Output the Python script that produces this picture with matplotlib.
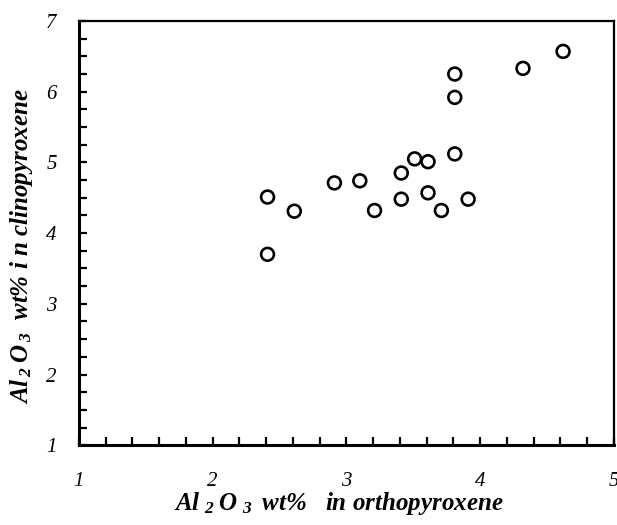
import matplotlib.pyplot as plt
from matplotlib.ticker import MultipleLocator

# Al2O3 in orthopyroxene (x) vs clinopyroxene (y)
opx_al2o3 = [2.41, 2.41, 2.61, 2.91, 3.10, 3.21, 3.41, 3.41, 3.51,
             3.61, 3.61, 3.71, 3.91, 3.81, 3.81, 3.81, 4.32, 4.62]
cpx_al2o3 = [4.51, 3.70, 4.31, 4.71, 4.74, 4.32, 4.48, 4.85, 5.05,
             5.01, 4.57, 4.32, 4.48, 5.12, 5.92, 6.25, 6.33, 6.57]

x_ticks = [1, 2, 3, 4, 5]
y_ticks = [1, 2, 3, 4, 5, 6, 7]

plt.rcParams['font.family'] = 'Liberation Serif'
plt.rcParams['mathtext.default'] = 'regular'

fig = plt.figure(figsize=(6.17, 5.25), dpi=100)
ax = fig.add_axes([0.128, 0.152, 0.867, 0.808])

ax.scatter(opx_al2o3, cpx_al2o3, s=85, facecolors='none', edgecolors='black',
           linewidths=1.9, zorder=3)

ax.set_xlim(1, 5)
ax.set_ylim(1, 7)
ax.set_xticks(x_ticks)
ax.set_yticks(y_ticks)
ax.xaxis.set_minor_locator(MultipleLocator(0.2))
ax.yaxis.set_minor_locator(MultipleLocator(0.25))
ax.tick_params(which='both', direction='in', length=6, width=1.6,
               top=False, right=False)
ax.tick_params(axis='x', pad=19)
ax.tick_params(axis='y', pad=16)

for lab in ax.get_xticklabels() + ax.get_yticklabels():
    lab.set_fontstyle('italic')
    lab.set_fontsize(15)

for side in ['left', 'bottom']:
    ax.spines[side].set_linewidth(2.2)
for side in ['top', 'right']:
    ax.spines[side].set_linewidth(1.6)

ax.set_xlabel(r'Al$_{\,\,2}\,$O$_{\,\,3}\,$ wt%   in orthopyroxene', fontsize=18,
              fontweight='bold', fontstyle='italic')
ax.xaxis.set_label_coords(0.485, -0.105)
ax.set_ylabel(r'Al$_{\,2}\,$O$_{\,3}$  wt% i n clinopyroxene', fontsize=18,
              fontweight='bold', fontstyle='italic')
ax.yaxis.set_label_coords(-0.082, 0.47)

plt.savefig('out.png', dpi=100)
